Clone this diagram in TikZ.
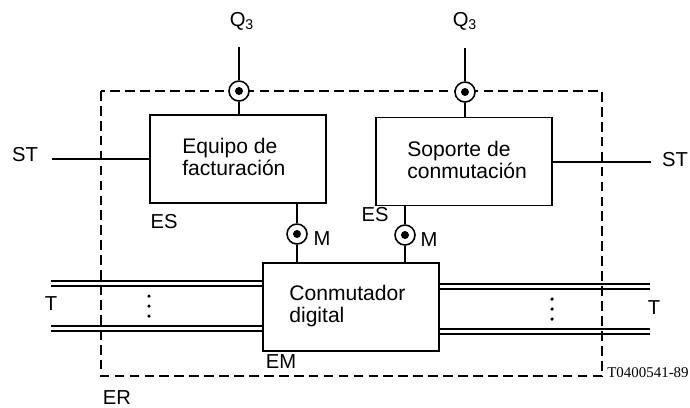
\documentclass[tikz,border=0pt]{standalone}
\usepackage{fontspec}
\setmainfont{Liberation Sans}
\newfontfamily\codefont{Liberation Serif}
\tikzset{
  boxnode/.style={draw, line width=0.8pt, minimum width=3.52cm, minimum height=1.76cm},
  portnode/.style={circle, draw, fill=white, line width=0.9pt, minimum size=0.4cm, inner sep=0pt,
    path picture={\fill[black] (path picture bounding box.center) circle (0.08cm);}},
  textnode/.style={font=\fontsize{11.5}{12.5}\selectfont, align=left, inner sep=0pt},
  blocktext/.style={font=\fontsize{12}{12.5}\selectfont, align=left, inner sep=0pt},
  wire/.style={line width=0.7pt},
  dotnode/.style={circle, fill, minimum size=2pt, inner sep=0pt},
}
\begin{document}
\begin{tikzpicture}[x=0.02cm, y=-0.02cm]
  \useasboundingbox (0,0) rectangle (690,407);
  % zone boundary
  \draw[line width=0.7pt, dash pattern=on 5.5pt off 3pt] (101,91) rectangle (602,376);
  % blocks
  \node[boxnode] (billing) at (238,159) {};
  \node[boxnode] (switchsupport) at (464,161.5) {};
  \node[boxnode] (exchange) at (351,307) {};
  \node[blocktext, anchor=west] (billingtext) at (182,157) {Equipo de\\facturación};
  \node[blocktext, anchor=west] (supporttext) at (407,160) {Soporte de\\conmutación};
  \node[blocktext, anchor=west] (exchangetext) at (289,306) {Conmutador\\digital};
  % interfaces
  \node[portnode] (qportl) at (239,91) {};
  \node[portnode] (qportr) at (465,92) {};
  \node[portnode] (mportl) at (297,234) {};
  \node[portnode] (mportr) at (405,235) {};
  \coordinate (qendl) at (239,47);
  \coordinate (qendr) at (465,48);
  \coordinate (stendl) at (52,159);
  \coordinate (stendr) at (651,162);
  \draw[wire] (qendl) -- (qportl);
  \draw[wire] (qportl) -- (qportl |- billing.north);
  \draw[wire] (qendr) -- (qportr);
  \draw[wire] (qportr) -- (qportr |- switchsupport.north);
  \draw[wire] (mportl |- billing.south) -- (mportl);
  \draw[wire] (mportl) -- (mportl |- exchange.north);
  \draw[wire] (mportr |- switchsupport.south) -- (mportr);
  \draw[wire] (mportr) -- (mportr |- exchange.north);
  \draw[wire] (stendl) -- (stendl -| billing.west);
  \draw[wire] (stendr) -- (stendr -| switchsupport.east);
  % trunks
  \foreach \y/\name in {281/a, 286/b, 326/c, 331/d} {
    \coordinate (trunkl\name) at (51,\y);
    \draw[wire] (trunkl\name) -- (trunkl\name -| exchange.west);
  }
  \foreach \y/\name in {284/a, 289/b, 329/c, 334/d} {
    \coordinate (trunkr\name) at (650,\y);
    \draw[wire] (trunkr\name -| exchange.east) -- (trunkr\name);
  }
  \foreach \y in {296,306,316} \node[dotnode] (dotl\y) at (149,\y) {};
  \foreach \y in {299,309,319} \node[dotnode] (dotr\y) at (552,\y) {};
  % labels
  \node[textnode] (qlabell) at (242,21) {Q\textsubscript{3}};
  \node[textnode] (qlabelr) at (465,21) {Q\textsubscript{3}};
  \node[textnode] (stlabell) at (25,155) {ST};
  \node[textnode] (stlabelr) at (675,160) {ST};
  \node[textnode] (tlabell) at (51,304) {T};
  \node[textnode] (tlabelr) at (654,308) {T};
  \node[textnode] (eslabell) at (164,222) {ES};
  \node[textnode] (eslabelr) at (375,215) {ES};
  \node[textnode] (mlabell) at (322,239) {M};
  \node[textnode] (mlabelr) at (429,240) {M};
  \node[textnode] (emlabel) at (281,362) {EM};
  \node[textnode] (erlabel) at (117,398) {ER};
  \node[font=\codefont\fontsize{8.5}{10}\selectfont, inner sep=0pt] (reflabel) at (648,373) {T0400541-89};
\end{tikzpicture}
\end{document}
